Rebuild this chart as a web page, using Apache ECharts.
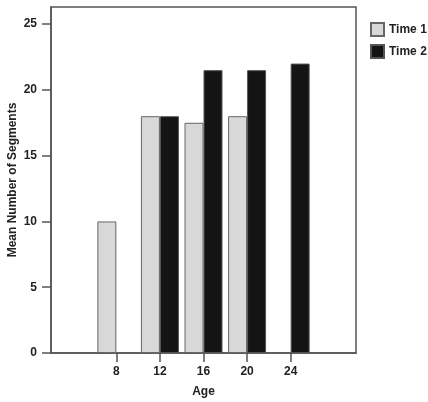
<!DOCTYPE html>
<html>
<head>
<meta charset="utf-8">
<script src="https://cdn.jsdelivr.net/npm/echarts@6/dist/echarts.min.js"></script>
<style>
  html, body { margin: 0; padding: 0; background: #fff; }
  #main { width: 428px; height: 402px; }
</style>
</head>
<body>
<div id="main"></div>
<script>
// ages, with an empty slot on each side for padding
var ages = ['4', '8', '12', '16', '20', '24', '28'];
var time1 = ['-', 10, 18, 17.5, 18, '-', '-'];
var time2 = ['-', '-', 18, 21.5, 21.5, 22, '-'];
var shownAges = ['8', '12', '16', '20', '24'];

var chart = echarts.init(document.getElementById('main'));
var font = 'Liberation Sans, Arial, sans-serif';

// category indices of the ages that get a tick and a label
var shownIdx = shownAges.map(function (a) { return ages.indexOf(a); });

var option = {
    animation: false,
    textStyle: { fontFamily: font },
    grid: {
        left: 51, right: 72, top: 7, bottom: 49,
        show: true,
        borderColor: '#555',
        borderWidth: 1.5,
        containLabel: false,
        outerBoundsMode: 'none'
    },
    legend: {
        orient: 'vertical',
        left: 370, top: 22,
        padding: 0,
        itemWidth: 13, itemHeight: 13, itemGap: 7,
        icon: 'rect',
        textStyle: { fontFamily: font, fontWeight: 'bold', fontSize: 12, color: '#222' },
        data: ['Time 1', 'Time 2']
    },
    xAxis: {
        type: 'category',
        data: ages,
        name: 'Age',
        nameLocation: 'middle',
        nameGap: 33,
        nameMoveOverlap: false,
        nameTextStyle: { fontWeight: 'bold', fontSize: 12, color: '#222' },
        axisLine: { lineStyle: { color: '#555', width: 1.5 } },
        axisTick: {
            show: true,
            alignWithLabel: true,
            length: 9,
            lineStyle: { color: '#555', width: 1.5 },
            customValues: shownIdx
        },
        axisLabel: {
            margin: 13,
            fontWeight: 'bold', fontSize: 12, color: '#222',
            customValues: shownIdx
        },
        splitLine: { show: false }
    },
    yAxis: {
        type: 'value',
        min: 0, max: 26.3, interval: 5,
        name: 'Mean Number of Segments',
        nameLocation: 'middle',
        nameGap: 32,
        nameMoveOverlap: false,
        nameTextStyle: { fontWeight: 'bold', fontSize: 12, color: '#222' },
        axisLine: { show: true, lineStyle: { color: '#555', width: 1.5 } },
        axisTick: { show: true, length: 9, lineStyle: { color: '#555', width: 1.5 } },
        axisLabel: {
            margin: 14, fontWeight: 'bold', fontSize: 12, color: '#222',
            showMaxLabel: false
        },
        splitLine: { show: false }
    },
    series: [
        {
            name: 'Time 1',
            type: 'bar',
            data: time1,
            barWidth: 19,
            barGap: '0%',
            itemStyle: { color: '#d8d8d8', borderColor: '#666', borderWidth: 1 }
        },
        {
            name: 'Time 2',
            type: 'bar',
            data: time2,
            barWidth: 19,
            barGap: '0%',
            itemStyle: { color: '#141414', borderColor: '#555', borderWidth: 1 }
        }
    ]
};

chart.setOption(option);
</script>
</body>
</html>
